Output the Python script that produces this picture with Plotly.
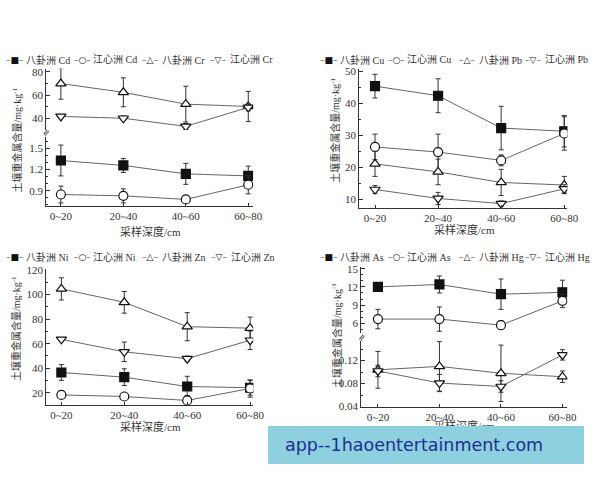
import plotly.graph_objects as go

categories = ["0~20", "20~40", "40~60", "60~80"]

# Panel 1: Cd / Cr
bgz_cd = [1.33, 1.26, 1.14, 1.11]
bgz_cd_err = [0.22, 0.10, 0.15, 0.14]
jxz_cd = [0.845, 0.826, 0.775, 0.984]
jxz_cd_err = [0.12, 0.10, 0.02, 0.13]
bgz_cr = [70.0, 62.4, 52.2, 50.2]
bgz_cr_err = [13.5, 12.5, 15.5, 13.0]
jxz_cr = [41.6, 40.0, 33.0, 49.4]
jxz_cr_err = [1.0, 2.0, 2.5, 3.0]

# Panel 2: Cu / Pb
bgz_cu = [45.4, 42.4, 32.3, 31.3]
bgz_cu_err = [3.7, 5.3, 6.8, 4.9]
jxz_cu = [26.4, 24.8, 22.2, 30.6]
jxz_cu_err = [4.0, 5.6, 1.7, 5.2]
bgz_pb = [21.1, 18.6, 15.3, 14.5]
bgz_pb_err = [3.9, 4.0, 4.1, 2.7]
jxz_pb = [13.1, 10.3, 8.7, 13.3]
jxz_pb_err = [1.2, 1.9, 0.8, 1.3]

# Panel 3: Ni / Zn
bgz_ni = [36.6, 32.8, 25.2, 24.2]
bgz_ni_err = [6.4, 6.8, 8.3, 6.0]
jxz_ni = [18.4, 17.1, 13.9, 23.6]
jxz_ni_err = [1.0, 1.5, 4.0, 7.0]
bgz_zn = [104.5, 93.6, 73.8, 72.6]
bgz_zn_err = [9.0, 8.8, 11.4, 9.0]
jxz_zn = [63.5, 53.4, 47.8, 62.8]
jxz_zn_err = [1.5, 7.9, 2.0, 7.5]

# Panel 4: As / Hg
bgz_as = [12.0, 12.4, 10.8, 11.1]
bgz_as_err = [0.3, 1.4, 2.5, 2.0]
jxz_as = [6.7, 6.7, 5.7, 9.7]
jxz_as_err = [1.6, 2.0, 0.7, 1.1]
bgz_hg = [0.104, 0.110, 0.098, 0.092]
bgz_hg_err = [0.032, 0.043, 0.049, 0.010]
jxz_hg = [0.102, 0.081, 0.075, 0.130]
jxz_hg_err = [0.010, 0.015, 0.010, 0.009]

legend_names = [
    ["八卦洲 Cd", "江心洲 Cd", "八卦洲 Cr", "江心洲 Cr"],
    ["八卦洲 Cu", "江心洲 Cu", "八卦洲 Pb", "江心洲 Pb"],
    ["八卦洲 Ni", "江心洲 Ni", "八卦洲 Zn", "江心洲 Zn"],
    ["八卦洲 As", "江心洲 As", "八卦洲 Hg", "江心洲 Hg"],
]
y_title = "土壤重金属含量/mg·kg<sup>-1</sup>"
x_title = "采样深度/cm"
watermark = "app--1haoentertainment.com"

W, H = 600, 480
SERIF = "Liberation Serif, Noto Sans CJK SC, serif"
TXT = "#333"
LINE = "#666"
MK = "#111"

styles = [
    dict(symbol="square", color=MK),
    dict(symbol="circle", color="white"),
    dict(symbol="triangle-up", color="white"),
    dict(symbol="triangle-down", color="white"),
]
glyphs = ["■", "○", "△", "▽"]

fig = go.Figure()


def add(vals, errs, style_idx, xa, ya, name):
    st = styles[style_idx]
    fig.add_trace(go.Scatter(
        x=categories, y=vals, name=name, xaxis=xa, yaxis=ya,
        mode="lines+markers", showlegend=False,
        line=dict(color=LINE, width=1),
        marker=dict(symbol=st["symbol"], size=9, color=st["color"],
                    line=dict(color=MK, width=1.2)),
        error_y=dict(type="data", array=errs, visible=True,
                     color="#333", thickness=1, width=2.5),
    ))


# panel 1 (x, y lower / y2 upper)
add(bgz_cd, bgz_cd_err, 0, "x", "y", legend_names[0][0])
add(jxz_cd, jxz_cd_err, 1, "x", "y", legend_names[0][1])
add(bgz_cr, bgz_cr_err, 2, "x", "y2", legend_names[0][2])
add(jxz_cr, jxz_cr_err, 3, "x", "y2", legend_names[0][3])
# panel 2 (x2, y3)
add(bgz_cu, bgz_cu_err, 0, "x2", "y3", legend_names[1][0])
add(jxz_cu, jxz_cu_err, 1, "x2", "y3", legend_names[1][1])
add(bgz_pb, bgz_pb_err, 2, "x2", "y3", legend_names[1][2])
add(jxz_pb, jxz_pb_err, 3, "x2", "y3", legend_names[1][3])
# panel 3 (x3, y4)
add(bgz_ni, bgz_ni_err, 0, "x3", "y4", legend_names[2][0])
add(jxz_ni, jxz_ni_err, 1, "x3", "y4", legend_names[2][1])
add(bgz_zn, bgz_zn_err, 2, "x3", "y4", legend_names[2][2])
add(jxz_zn, jxz_zn_err, 3, "x3", "y4", legend_names[2][3])
# panel 4 (x4, y5 lower / y6 upper)
add(bgz_as, bgz_as_err, 0, "x4", "y6", legend_names[3][0])
add(jxz_as, jxz_as_err, 1, "x4", "y6", legend_names[3][1])
add(bgz_hg, bgz_hg_err, 2, "x4", "y5", legend_names[3][2])
add(jxz_hg, jxz_hg_err, 3, "x4", "y5", legend_names[3][3])


def px_x(p):
    return p / W


def px_y(p):
    return 1 - p / H


axis_common = dict(
    showline=True, linecolor="#333", linewidth=1, showgrid=False, zeroline=False,
    ticks="inside", ticklen=4, tickcolor="#333", tickwidth=1,
    tickfont=dict(family=SERIF, size=11, color=TXT),
)


def xaxis(l, r, rng, anchor):
    return dict(axis_common, type="category", domain=[px_x(l), px_x(r)],
                range=rng, anchor=anchor, ticklen=3)


def yaxis(b, t, rng, anchor, dtick, tick0, fmt=None):
    d = dict(axis_common, domain=[px_y(b), px_y(t)], range=rng, anchor=anchor,
             dtick=dtick, tick0=tick0,
             minor=dict(ticks="inside", ticklen=2, tickcolor="#333", nticks=3))
    if fmt:
        d["tickformat"] = fmt
    return d


fig.update_layout(
    width=W, height=H, margin=dict(l=0, r=0, t=0, b=0),
    paper_bgcolor="white", plot_bgcolor="white", showlegend=False,
    xaxis=xaxis(47, 258, [-0.236, 3.08], "y"),
    yaxis=yaxis(206, 135, [0.677, 1.667], "x", 0.3, 0.9, ".1f"),
    yaxis2=yaxis(128, 65, [29.8, 83.0], "x", 20, 0),
    xaxis2=xaxis(366, 578, [-0.249, 3.05], "y3"),
    yaxis3=yaxis(208, 66, [7.25, 50.6], "x2", 10, 0),
    xaxis3=xaxis(47, 258, [-0.242, 3.05], "y4"),
    yaxis4=yaxis(409, 270, [10.5, 120.8], "x3", 20, 0),
    xaxis4=xaxis(368, 578, [-0.271, 3.08], "y5"),
    yaxis5=yaxis(411, 344, [0.04, 0.154], "x4", 0.04, 0, ".2f"),
    yaxis6=yaxis(336, 268, [4.36, 15.3], "x4", 3, 0),
)

ann = []


def note(xx, yy, text, font, xanchor="center", yanchor="middle", **kw):
    ann.append(dict(x=px_x(xx), y=px_y(yy), xref="paper", yref="paper",
                    xanchor=xanchor, yanchor=yanchor, showarrow=False,
                    text=text, font=font, **kw))


# legends
leg_pos = [
    (56, [4, 73, 143, 212]),
    (56, [324, 393, 466, 533]),
    (258, [4, 73, 143, 213]),
    (258, [324, 393, 466, 533]),
]
for p, (yy, xs) in enumerate(leg_pos):
    for i, x0 in enumerate(xs):
        note(x0, yy,
             f'<span style="color:{LINE}">–</span>{glyphs[i]}<span style="color:{LINE}">–</span>',
             dict(family="DejaVu Sans", size=9, color=MK), xanchor="left")
        note(x0 + 20, yy, legend_names[p][i],
             dict(family=SERIF, size=10, color=TXT), xanchor="left")

# y titles
for (xx, yy) in [(17, 138), (341, 128), (17, 331), (343, 338)]:
    note(xx, yy, y_title, dict(family=SERIF, size=10, color=TXT), textangle=-90)
# x titles
for (xx, yy) in [(153, 232), (473, 230), (153, 431), (473, 430)]:
    note(xx, yy, x_title, dict(family=SERIF, size=11, color=TXT))
# axis break marks
for (xx, yy) in [(47, 131), (368, 340)]:
    note(xx, yy, "≈", dict(family="DejaVu Sans", size=10, color="#333"), textangle=-60)
# watermark box + text
note(273, 431, " ", dict(size=10), xanchor="left", yanchor="top",
     width=316, height=38, bgcolor="#8ecfe0", borderpad=0, borderwidth=0)
note(288, 450, watermark, dict(family="DejaVu Sans", size=17.5, color="#1f2f8f"),
     xanchor="left")

fig.update_layout(annotations=ann)
fig.write_html("out.html")
